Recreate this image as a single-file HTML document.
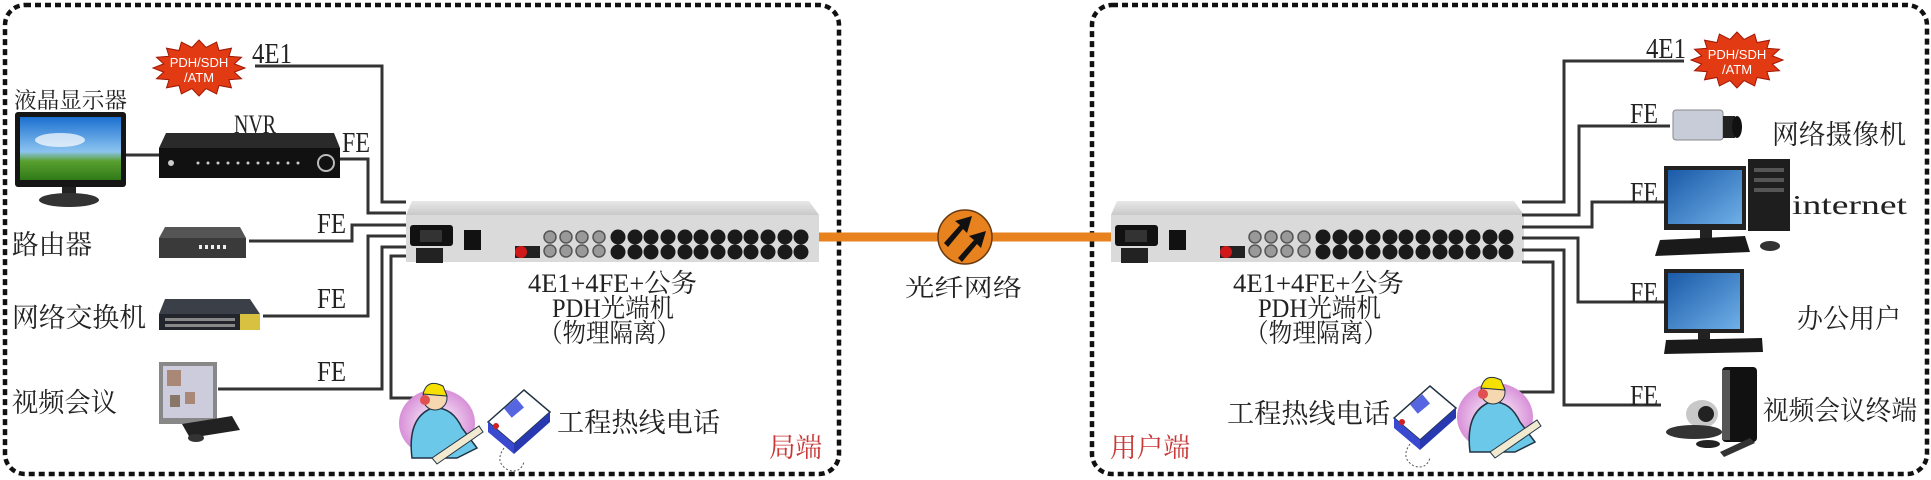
<!DOCTYPE html>
<html><head><meta charset="utf-8"><style>
html,body{margin:0;padding:0;background:#fff;}
svg{display:block;}
text{font-family:"Liberation Serif","Noto Serif CJK SC","Noto Sans CJK SC",serif;fill:#222;}
text.w{font-family:"Liberation Sans",sans-serif;fill:#fff;}
</style></head><body>
<svg width="1931" height="480" viewBox="0 0 1931 480" xmlns="http://www.w3.org/2000/svg">
<defs>
<linearGradient id="scr" x1="0" y1="0" x2="0" y2="1"><stop offset="0" stop-color="#1b6fd0"/><stop offset="0.55" stop-color="#8cc4f0"/><stop offset="0.7" stop-color="#5aa030"/><stop offset="1" stop-color="#2f7a18"/></linearGradient>
<linearGradient id="wld" x1="0" y1="0" x2="1" y2="1"><stop offset="0" stop-color="#1a5aa8"/><stop offset="1" stop-color="#6fb0e8"/></linearGradient>
<linearGradient id="top" x1="0" y1="0" x2="0" y2="1"><stop offset="0" stop-color="#e8e8e8"/><stop offset="1" stop-color="#c9c9c9"/></linearGradient>
<radialGradient id="pink"><stop offset="0" stop-color="#fff"/><stop offset="1" stop-color="#d890d8"/></radialGradient>
<g id="dev">
 <polygon points="6,0 403,0 413,14 0,14" fill="url(#top)"/>
 <rect x="0" y="14" width="413" height="47" fill="#dadada"/>
 <rect x="4" y="24" width="43" height="21" rx="3" fill="#111"/>
 <rect x="14" y="29" width="22" height="12" fill="#333"/>
 <rect x="10" y="47" width="27" height="15" fill="#222"/>
 <rect x="58" y="29" width="17" height="20" fill="#111"/>
 <rect x="109" y="45" width="25" height="12" fill="#222"/>
 <circle cx="115" cy="51" r="6" fill="#d01818"/>
 <g fill="#999" stroke="#555" stroke-width="1.5">
 <circle cx="144" cy="36" r="6"/><circle cx="160" cy="36" r="6"/><circle cx="176" cy="36" r="6"/><circle cx="193" cy="36" r="6"/>
 <circle cx="144" cy="50" r="6"/><circle cx="160" cy="50" r="6"/><circle cx="176" cy="50" r="6"/><circle cx="193" cy="50" r="6"/>
 </g>
 <g fill="#1a1a1a">
 <circle cx="212" cy="36" r="7.5"/><circle cx="229" cy="36" r="7.5"/><circle cx="245" cy="36" r="7.5"/><circle cx="262" cy="36" r="7.5"/><circle cx="279" cy="36" r="7.5"/><circle cx="295" cy="36" r="7.5"/><circle cx="312" cy="36" r="7.5"/><circle cx="329" cy="36" r="7.5"/><circle cx="345" cy="36" r="7.5"/><circle cx="362" cy="36" r="7.5"/><circle cx="379" cy="36" r="7.5"/><circle cx="395" cy="36" r="7.5"/>
 <circle cx="212" cy="51" r="7.5"/><circle cx="229" cy="51" r="7.5"/><circle cx="245" cy="51" r="7.5"/><circle cx="262" cy="51" r="7.5"/><circle cx="279" cy="51" r="7.5"/><circle cx="295" cy="51" r="7.5"/><circle cx="312" cy="51" r="7.5"/><circle cx="329" cy="51" r="7.5"/><circle cx="345" cy="51" r="7.5"/><circle cx="362" cy="51" r="7.5"/><circle cx="379" cy="51" r="7.5"/><circle cx="395" cy="51" r="7.5"/>
 </g>
</g>
<polygon id="star" fill="#e23a12" stroke="#a01808" stroke-width="1" points="46,0 35.3,4.1 42.5,10.7 29.9,11.7 32.5,19.8 20,17.5 17.6,25.9 7,20.6 0,28 -7,20.6 -17.6,25.9 -20,17.5 -32.5,19.8 -29.9,11.7 -42.5,10.7 -35.3,4.1 -46,0 -35.3,-4.1 -42.5,-10.7 -29.9,-11.7 -32.5,-19.8 -20,-17.5 -17.6,-25.9 -7,-20.6 0,-28 7,-20.6 17.6,-25.9 20,-17.5 32.5,-19.8 29.9,-11.7 42.5,-10.7 35.3,-4.1"/>
<g id="person">
 <ellipse cx="40" cy="45" rx="38" ry="34" fill="url(#pink)"/>
 <path d="M15,80 Q10,40 35,30 Q55,28 65,50 L80,70 L60,80 Z" fill="#6cc8e8" stroke="#234" stroke-width="1.5"/>
 <circle cx="38" cy="20" r="12" fill="#f5d8b0" stroke="#234"/>
 <path d="M26,16 Q30,0 46,8 L50,18 Z" fill="#f5e000" stroke="#234"/>
 <circle cx="28" cy="22" r="5" fill="#e05050"/>
 <path d="M35,80 L82,48 L86,54 L40,86 Z" fill="#f2ead0" stroke="#234"/>
</g>
<g id="phone">
 <path d="M4,40 L40,8 L66,30 L30,62 Z" fill="#fff" stroke="#234" stroke-width="1.5"/>
 <path d="M4,40 L30,62 L30,72 L4,50 Z" fill="#3a4ad0"/>
 <path d="M30,62 L66,30 L66,40 L30,72 Z" fill="#2838b0"/>
 <rect x="22" y="20" width="16" height="12" fill="#5566e0" transform="rotate(-40 30 26)"/>
 <circle cx="12" cy="44" r="3" fill="#d02020"/>
 <path d="M20,66 Q10,80 24,88 Q36,92 40,80" fill="none" stroke="#555" stroke-dasharray="2 2"/>
</g>
</defs>

<rect x="5" y="5" width="834" height="469" rx="20" fill="none" stroke="#111" stroke-width="4.5" stroke-dasharray="6 4"/>
<rect x="1092" y="5" width="835" height="469" rx="20" fill="none" stroke="#111" stroke-width="4.5" stroke-dasharray="6 4"/>

<line x1="819" y1="237" x2="1113" y2="237" stroke="#e8821e" stroke-width="9"/>
<circle cx="965" cy="237" r="27" fill="#e8821e" stroke="#6a3a10" stroke-width="1.5"/>
<g fill="#111">
 <path d="M944,243 L960,225 L955,221 L972,216 L967,233 L963,229 L948,247 Z"/>
 <path d="M958,258 L974,240 L969,236 L986,231 L981,248 L977,244 L962,262 Z"/>
</g>
<text x="905" y="296" font-size="24" textLength="117" lengthAdjust="spacingAndGlyphs">光纤网络</text>

<use href="#dev" x="406" y="201"/>
<use href="#dev" x="1111" y="201"/>

<g fill="none" stroke="#333" stroke-width="3">
 <polyline points="255,66 382,66 382,202 406,202"/>
 <polyline points="340,159 368,159 368,213 406,213"/>
 <polyline points="249,241 352,241 352,225 406,225"/>
 <polyline points="263,316 368,316 368,236 406,236"/>
 <polyline points="218,389 382,389 382,247 406,247"/>
 <polyline points="431,398 391,398 391,256 406,256"/>
 <line x1="126" y1="155" x2="159" y2="155"/>
</g>
<g fill="none" stroke="#333" stroke-width="3">
 <polyline points="1522,202 1564,202 1564,61 1684,61"/>
 <polyline points="1522,215 1579,215 1579,126 1670,126"/>
 <polyline points="1522,227 1592,227 1592,202 1664,202"/>
 <polyline points="1522,238 1578,238 1578,302 1667,302"/>
 <polyline points="1522,250 1564,250 1564,405 1661,405"/>
 <polyline points="1522,262 1553,262 1553,392 1516,392"/>
</g>

<use href="#star" x="199" y="68"/>
<text class="w" x="199" y="67" font-size="13" text-anchor="middle">PDH/SDH</text>
<text class="w" x="199" y="82" font-size="13" text-anchor="middle">/ATM</text>
<text x="252" y="63" font-size="28" textLength="40" lengthAdjust="spacingAndGlyphs">4E1</text>

<text x="14" y="108" font-size="22" textLength="113" lengthAdjust="spacingAndGlyphs">液晶显示器</text>
<rect x="15" y="112" width="111" height="75" rx="3" fill="#151515"/>
<rect x="20" y="117" width="101" height="63" fill="url(#scr)"/>
<ellipse cx="60" cy="140" rx="25" ry="7" fill="#fff" opacity="0.7"/>
<rect x="62" y="187" width="14" height="10" fill="#222"/>
<ellipse cx="69" cy="200" rx="30" ry="7" fill="#333"/>

<text x="234" y="133" font-size="26" textLength="42" lengthAdjust="spacingAndGlyphs">NVR</text>
<polygon points="166,133 334,133 340,148 159,148" fill="#2a2a2a"/>
<rect x="159" y="148" width="181" height="30" fill="#111"/>
<g fill="#ccc"><circle cx="171" cy="163" r="3"/><circle cx="198" cy="163" r="1.5"/><circle cx="208" cy="163" r="1.5"/><circle cx="218" cy="163" r="1.5"/><circle cx="228" cy="163" r="1.5"/><circle cx="238" cy="163" r="1.5"/><circle cx="248" cy="163" r="1.5"/><circle cx="258" cy="163" r="1.5"/><circle cx="268" cy="163" r="1.5"/><circle cx="278" cy="163" r="1.5"/><circle cx="288" cy="163" r="1.5"/><circle cx="298" cy="163" r="1.5"/></g>
<circle cx="326" cy="163" r="8" fill="none" stroke="#bbb" stroke-width="2"/>
<text x="342" y="152" font-size="28" textLength="28" lengthAdjust="spacingAndGlyphs">FE</text>

<text x="12" y="254" font-size="27" textLength="80" lengthAdjust="spacingAndGlyphs">路由器</text>
<polygon points="165,227 240,227 246,238 159,238" fill="#555"/>
<rect x="159" y="238" width="87" height="20" fill="#3a3a3a"/>
<g fill="#eee"><rect x="199" y="245" width="3" height="4"/><rect x="205" y="245" width="3" height="4"/><rect x="211" y="245" width="3" height="4"/><rect x="217" y="245" width="3" height="4"/><rect x="223" y="245" width="3" height="4"/></g>
<text x="317" y="233" font-size="28" textLength="29" lengthAdjust="spacingAndGlyphs">FE</text>

<text x="12" y="327" font-size="27" textLength="134" lengthAdjust="spacingAndGlyphs">网络交换机</text>
<polygon points="165,299 250,299 260,314 159,314" fill="#3a3f48"/>
<rect x="159" y="314" width="101" height="16" fill="#22262c"/>
<rect x="240" y="314" width="20" height="16" fill="#d8c040"/>
<g fill="#888"><rect x="165" y="318" width="70" height="3"/><rect x="165" y="324" width="70" height="3"/></g>
<text x="317" y="308" font-size="28" textLength="29" lengthAdjust="spacingAndGlyphs">FE</text>

<text x="12" y="412" font-size="27" textLength="105" lengthAdjust="spacingAndGlyphs">视频会议</text>
<rect x="159" y="362" width="58" height="62" fill="#888"/>
<rect x="163" y="366" width="50" height="52" fill="#ccd"/>
<rect x="167" y="370" width="14" height="16" fill="#a87"/><rect x="185" y="392" width="10" height="12" fill="#a87"/><rect x="170" y="395" width="10" height="12" fill="#876"/>
<polygon points="182,424 232,416 240,430 190,438" fill="#222"/>
<ellipse cx="196" cy="438" rx="8" ry="4" fill="#333"/>
<text x="317" y="381" font-size="28" textLength="29" lengthAdjust="spacingAndGlyphs">FE</text>

<use href="#person" x="397" y="378"/>
<use href="#phone" x="484" y="382"/>
<text x="557" y="432" font-size="27" textLength="163" lengthAdjust="spacingAndGlyphs">工程热线电话</text>
<text x="769" y="457" font-size="27" style="fill:#c83838" textLength="53" lengthAdjust="spacingAndGlyphs">局端</text>

<text x="528" y="292" font-size="26" textLength="169" lengthAdjust="spacingAndGlyphs">4E1+4FE+公务</text>
<text x="552" y="317" font-size="26" textLength="122" lengthAdjust="spacingAndGlyphs">PDH光端机</text>
<text x="539" y="342" font-size="26" textLength="141" lengthAdjust="spacingAndGlyphs">（物理隔离）</text>

<text x="1233" y="292" font-size="26" textLength="171" lengthAdjust="spacingAndGlyphs">4E1+4FE+公务</text>
<text x="1258" y="317" font-size="26" textLength="123" lengthAdjust="spacingAndGlyphs">PDH光端机</text>
<text x="1245" y="342" font-size="26" textLength="142" lengthAdjust="spacingAndGlyphs">（物理隔离）</text>

<use href="#star" x="1737" y="60"/>
<text class="w" x="1737" y="59" font-size="13" text-anchor="middle">PDH/SDH</text>
<text class="w" x="1737" y="74" font-size="13" text-anchor="middle">/ATM</text>
<text x="1646" y="58" font-size="28" textLength="40" lengthAdjust="spacingAndGlyphs">4E1</text>

<text x="1630" y="123" font-size="28" textLength="28" lengthAdjust="spacingAndGlyphs">FE</text>
<rect x="1673" y="110" width="50" height="30" rx="3" fill="#c8ccd8" stroke="#888"/>
<rect x="1723" y="116" width="12" height="22" fill="#222"/>
<ellipse cx="1737" cy="127" rx="5" ry="11" fill="#111"/>
<text x="1772" y="144" font-size="27" textLength="134" lengthAdjust="spacingAndGlyphs">网络摄像机</text>

<text x="1630" y="202" font-size="28" textLength="28" lengthAdjust="spacingAndGlyphs">FE</text>
<rect x="1664" y="166" width="82" height="64" fill="#222"/>
<rect x="1668" y="170" width="74" height="54" fill="url(#wld)"/>
<rect x="1700" y="230" width="12" height="10" fill="#222"/>
<rect x="1748" y="159" width="42" height="72" fill="#1e1e1e"/>
<g fill="#555"><rect x="1754" y="168" width="30" height="4"/><rect x="1754" y="178" width="30" height="4"/><rect x="1754" y="188" width="30" height="4"/></g>
<polygon points="1660,240 1745,236 1750,252 1655,256" fill="#1a1a1a"/>
<ellipse cx="1770" cy="246" rx="10" ry="5" fill="#333"/>
<text x="1792" y="214" font-size="27" textLength="115" lengthAdjust="spacingAndGlyphs">internet</text>

<text x="1630" y="302" font-size="28" textLength="28" lengthAdjust="spacingAndGlyphs">FE</text>
<rect x="1664" y="269" width="80" height="64" fill="#222"/>
<rect x="1668" y="273" width="72" height="56" fill="url(#wld)"/>
<rect x="1698" y="333" width="12" height="8" fill="#222"/>
<polygon points="1666,340 1762,338 1763,352 1664,354" fill="#1a1a1a"/>
<text x="1797" y="328" font-size="27" textLength="104" lengthAdjust="spacingAndGlyphs">办公用户</text>

<text x="1630" y="405" font-size="28" textLength="28" lengthAdjust="spacingAndGlyphs">FE</text>
<rect x="1722" y="367" width="35" height="75" rx="4" fill="#111"/>
<rect x="1722" y="370" width="8" height="70" fill="#555"/>
<ellipse cx="1702" cy="414" rx="16" ry="14" fill="#c8c8c8"/>
<circle cx="1706" cy="414" r="8" fill="#222"/>
<ellipse cx="1694" cy="432" rx="28" ry="7" fill="#333"/>
<ellipse cx="1708" cy="444" rx="12" ry="4" fill="#222"/>
<polygon points="1720,452 1750,438 1755,443 1724,457" fill="#333"/>
<text x="1763" y="420" font-size="27" textLength="154" lengthAdjust="spacingAndGlyphs">视频会议终端</text>

<use href="#phone" x="1390" y="378"/>
<use href="#person" x="1455" y="372"/>
<text x="1227" y="423" font-size="27" textLength="163" lengthAdjust="spacingAndGlyphs">工程热线电话</text>
<text x="1110" y="457" font-size="27" style="fill:#c83838" textLength="80" lengthAdjust="spacingAndGlyphs">用户端</text>
</svg>
</body></html>
